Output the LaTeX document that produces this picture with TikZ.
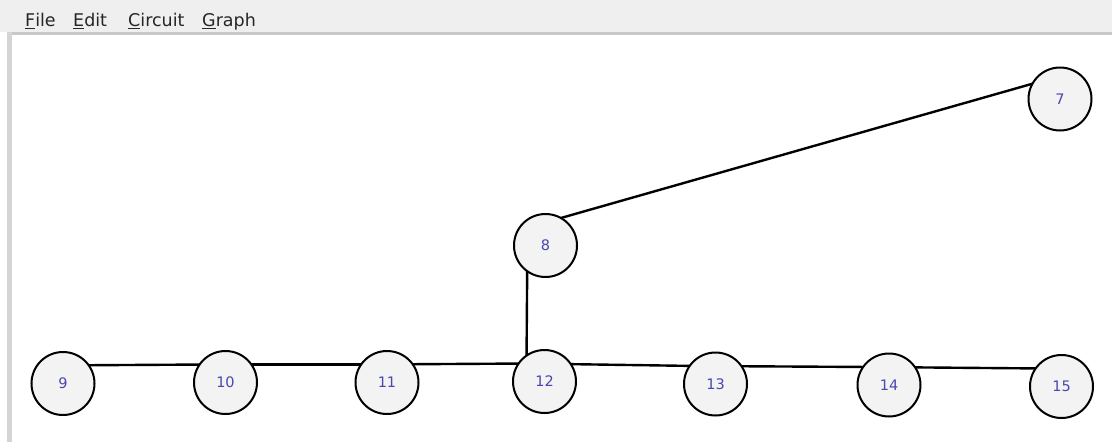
\documentclass[tikz,border=0pt]{standalone}
\usepackage{fontspec}
\setmainfont{DejaVu Sans}
\usetikzlibrary{calc}
\definecolor{menubg}{RGB}{239,239,239}
\definecolor{menuline}{RGB}{200,200,200}
\definecolor{sidebar}{RGB}{212,212,212}
\definecolor{vertexfill}{RGB}{243,243,243}
\definecolor{labelblue}{RGB}{72,72,176}
\pgfdeclarelayer{under}
\pgfsetlayers{under,main}
\tikzset{
  vertex/.style={circle, draw=black, line width=2pt, fill=vertexfill,
    minimum size=63pt, inner sep=0pt, text=labelblue,
    font=\fontsize{14.5}{14.5}\selectfont},
  edge/.style={draw=black, line width=2.4pt},
  menuitem/.style={anchor=base west, inner sep=0pt, text=black!85,
    font=\fontsize{17.5}{17.5}\selectfont},
}
\newcommand{\hook}[1]{([shift={(-18,-18)}]#1.center)}
\begin{document}
\begin{tikzpicture}[x=1pt, y=-1pt]
\useasboundingbox (0,0) rectangle (1112,442);

% window frame: canvas, menu bar, its lower border and the left edge of the canvas
\begin{pgfonlayer}{under}
\fill[white] (0,0) rectangle (1112,442);
\fill[menubg] (0,0) rectangle (1112,32);
\fill[menuline] (12,32) rectangle (1112,34.5);
\fill[sidebar] (7,32) rectangle (12,442);
\end{pgfonlayer}

\node[menuitem] (mfile) at (25,26.5) {\underline{F}ile};
\node[menuitem] (medit) at (73,26.5) {\underline{E}dit};
\node[menuitem] (mcircuit) at (128,26.5) {\underline{C}ircuit};
\node[menuitem] (mgraph) at (202,26.5) {\underline{G}raph};

% vertices
\node[vertex] (n7)  at (1060,99)    {7};
\node[vertex] (n8)  at (545.5,245.5) {8};
\node[vertex] (n9)  at (63,383.5)   {9};
\node[vertex] (n10) at (225.5,382.5) {10};
\node[vertex] (n11) at (387,382.5)  {11};
\node[vertex] (n12) at (544.5,381.5) {12};
\node[vertex] (n13) at (715.5,384)  {13};
\node[vertex] (n14) at (889,385)    {14};
\node[vertex] (n15) at (1061.5,386.5) {15};

% edges run between points offset up-left of each centre, beneath the vertices
\begin{pgfonlayer}{under}
\draw[edge] \hook{n7}  -- \hook{n8};
\draw[edge] \hook{n8}  -- \hook{n12};
\draw[edge] \hook{n9}  -- \hook{n10};
\draw[edge] \hook{n10} -- \hook{n11};
\draw[edge] \hook{n11} -- \hook{n12};
\draw[edge] \hook{n12} -- \hook{n13};
\draw[edge] \hook{n13} -- \hook{n14};
\draw[edge] \hook{n14} -- \hook{n15};
\end{pgfonlayer}
\end{tikzpicture}
\end{document}
